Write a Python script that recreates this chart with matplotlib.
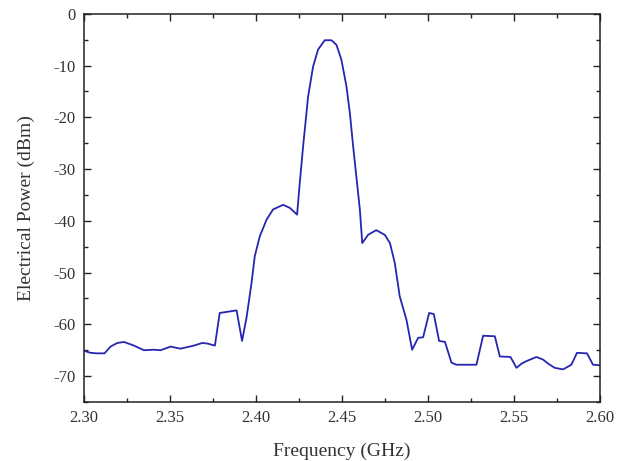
import numpy as np
import matplotlib
matplotlib.use("Agg")
import matplotlib.pyplot as plt
from matplotlib.ticker import MultipleLocator, FormatStrFormatter

# spectrum
freq = [2.300, 2.3039, 2.3077, 2.312, 2.3155, 2.3194, 2.3233, 2.3291, 2.3349,
        2.3407, 2.3446, 2.3504, 2.3562, 2.3601, 2.364, 2.3688, 2.3717, 2.3762,
        2.379, 2.3888, 2.392, 2.3946, 2.3975, 2.3994, 2.4023, 2.4062, 2.410,
        2.4159, 2.4198, 2.424, 2.4252, 2.4275, 2.4304, 2.4333, 2.4362, 2.4401,
        2.444, 2.4469, 2.4498, 2.4527, 2.4547, 2.4566, 2.4605, 2.4619, 2.4653,
        2.470, 2.475, 2.478, 2.4808, 2.4837, 2.4876, 2.4909, 2.4944, 2.4973,
        2.5008, 2.5035, 2.5066, 2.510, 2.5138, 2.5167, 2.5283, 2.5322, 2.539,
        2.5419, 2.5481, 2.5516, 2.5545, 2.5574, 2.5632, 2.567, 2.5705, 2.5738,
        2.5787, 2.5835, 2.5868, 2.5926, 2.5961, 2.600]
power = [-65.1, -65.5, -65.6, -65.6, -64.3, -63.6, -63.4, -64.1, -65.0,
         -64.9, -65.0, -64.3, -64.7, -64.4, -64.1, -63.6, -63.7, -64.1,
         -57.8, -57.3, -63.2, -58.7, -52.0, -46.8, -43.0, -39.8, -37.8,
         -36.9, -37.5, -38.8, -34.0, -25.6, -16.0, -10.2, -6.9, -5.1,
         -5.1, -6.0, -8.9, -14.0, -19.2, -25.6, -37.8, -44.3, -42.7,
         -41.8, -42.7, -44.3, -48.1, -54.6, -59.1, -64.9, -62.6, -62.5,
         -57.8, -58.0, -63.2, -63.4, -67.4, -67.8, -67.8, -62.2, -62.3,
         -66.2, -66.3, -68.4, -67.6, -67.1, -66.3, -66.8, -67.7, -68.4,
         -68.7, -67.8, -65.5, -65.6, -67.8, -67.9]

plt.rcParams['font.family'] = ['Liberation Serif', 'DejaVu Serif']
plt.rcParams['axes.unicode_minus'] = False

fig = plt.figure(figsize=(6.26, 4.61), dpi=100)
ax = fig.add_axes([0.134, 0.128, 0.824, 0.842])
ax.plot(freq, power, color="#2626b0", lw=1.3)

ax.set_xlim(2.30, 2.60)
ax.set_ylim(-75, 0)
ax.xaxis.set_major_locator(MultipleLocator(0.05))
ax.xaxis.set_minor_locator(MultipleLocator(0.025))
ax.yaxis.set_major_locator(MultipleLocator(10))
ax.yaxis.set_minor_locator(MultipleLocator(5))
ax.xaxis.set_major_formatter(FormatStrFormatter("%.2f"))
ax.tick_params(which="both", direction="in", top=True, right=True,
               labeltop=False, labelright=False, colors="#222222",
               labelcolor="#333333", labelsize=12, width=1)
ax.tick_params(which="major", length=5, pad=6)
ax.tick_params(which="minor", length=3)
for s in ax.spines.values():
    s.set_linewidth(1.1)
    s.set_color("#222222")

ax.set_xlabel("Frequency (GHz)", fontsize=14, color="#333333", labelpad=12)
ax.set_ylabel("Electrical Power (dBm)", fontsize=14, color="#333333", labelpad=13)

fig.savefig("out.png", dpi=100)
